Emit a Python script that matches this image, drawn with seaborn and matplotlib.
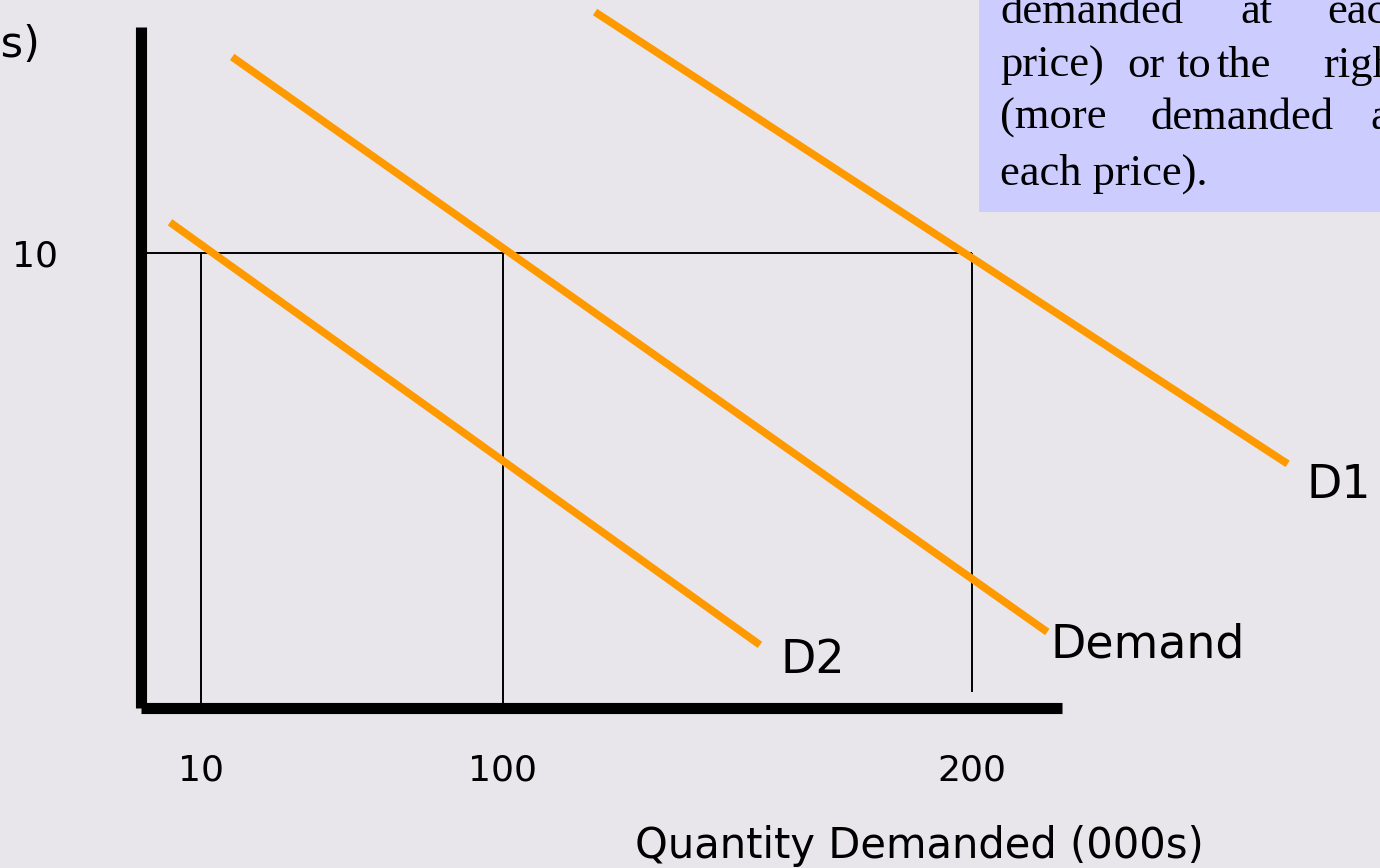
import pandas as pd
import seaborn as sns
import matplotlib.pyplot as plt
from matplotlib.patches import Rectangle

# --- Dados (unidades do gráfico: eixo x e eixo y vão de 0 a 100) ---
curvas = ['D2', 'D2', 'Demand', 'Demand', 'D1', 'D1']
q_vals = [3.15, 67.2, 9.9, 98.4, 49.3, 124.5]
p_vals = [71.3, 9.2, 95.6, 11.1, 102.2, 35.8]

q_tick_pos = [6.5, 39.3, 90.2]
q_tick_labels = ['10', '100', '200']
p_tick_pos = [66.8]
p_tick_labels = ['10']
guia_base = [0, 0, 2.3]   # onde terminam as linhas verticais guia

rotulos = ['D2', 'Demand', 'D1']
rotulo_x = [69.4, 98.7, 126.5]
rotulo_y = [5.1, 7.3, 30.8]

caixa_linhas = [['demanded', 'at', 'each'],
                ['price)', 'or', 'to', 'the', 'right'],
                ['(more', 'demanded', 'at'],
                ['each price).']]

df = pd.DataFrame({'curva': curvas, 'q': q_vals, 'p': p_vals})

# --- Estilo ---
fundo = '#E8E6EA'
laranja = '#FF9900'
sns.set_theme(style='white')
plt.rcParams['font.family'] = ['DejaVu Sans']
plt.rcParams['text.color'] = 'black'
plt.rcParams['axes.labelcolor'] = 'black'
plt.rcParams['xtick.color'] = 'black'
plt.rcParams['ytick.color'] = 'black'

W, H = 1380, 868
fig = plt.figure(figsize=(W / 100, H / 100), dpi=100, facecolor=fundo)
ax = fig.add_axes([141 / W, 1 - 707.5 / H, 921 / W, 680.5 / H])
ax.patch.set_visible(False)
ax.set_xlim(0, 100)
ax.set_ylim(0, 100)

# linhas guia finas
ax.hlines(p_tick_pos[0], 0, q_tick_pos[-1], color='black', lw=1.4, zorder=1)
ax.vlines(q_tick_pos, guia_base, p_tick_pos[0], color='black', lw=1.4, zorder=1)

# curvas de demanda
sns.lineplot(data=df, x='q', y='p', units='curva', estimator=None,
             color=laranja, lw=5.5, solid_capstyle='butt', ax=ax, zorder=2)
for linha in ax.lines:
    linha.set_clip_on(False)

for nome, x, y in zip(rotulos, rotulo_x, rotulo_y):
    ax.text(x, y, nome, fontsize=33, va='baseline', ha='left', clip_on=False)

# eixos grossos
sns.despine(ax=ax)
for lado in ['left', 'bottom']:
    ax.spines[lado].set_linewidth(8)
    ax.spines[lado].set_color('black')
    ax.spines[lado].set_capstyle('butt')

ax.set_xticks(q_tick_pos, q_tick_labels, fontsize=26)
ax.set_yticks(p_tick_pos, p_tick_labels, fontsize=26)
ax.tick_params(axis='x', length=0, pad=33)
ax.tick_params(axis='y', length=0, pad=60)

ax.set_xlabel('Quantity Demanded (000s)', fontsize=30, va='baseline')
ax.xaxis.set_label_coords((919 - 141) / 921, -(858 - 707.5) / 680.5)
ax.set_ylabel('Price (£s)', fontsize=31, rotation=0, ha='right', va='baseline')
ax.yaxis.set_label_coords((40 - 141) / 921, (707.5 - 57) / 680.5)

# caixa de texto (cortada na borda direita)
fig.add_artist(Rectangle((979 / W, 1 - 212 / H), 1, 212 / H,
                         transform=fig.transFigure, facecolor='#CCCCFF',
                         edgecolor='none', zorder=1))
pos_palavras = [[1000, 1240, 1327],
                [1000, 1127, 1177, 1217, 1323],
                [1000, 1150, 1370],
                [1000]]
linha_base = [23, 77, 129, 185]
for palavras, xs, yb in zip(caixa_linhas, pos_palavras, linha_base):
    for palavra, xp in zip(palavras, xs):
        fig.text(xp / W, 1 - yb / H, palavra, fontsize=32, color='black',
                 family='Liberation Serif', va='baseline', ha='left', zorder=2)

plt.savefig('out.png', dpi=100, facecolor=fundo)
